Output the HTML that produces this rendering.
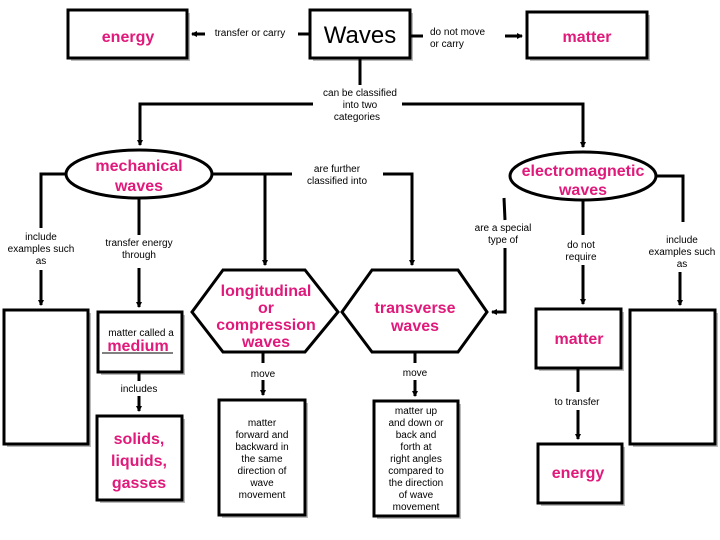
<!DOCTYPE html>
<html><head><meta charset="utf-8"><style>
html,body{margin:0;padding:0;background:#fff}
svg{display:block}
text{font-family:"Liberation Sans",sans-serif}
.s{font-size:10px;fill:#000}
.p{font-size:16px;font-weight:bold;fill:#e0197a}
</style></head><body>
<svg width="720" height="540" viewBox="0 0 720 540" xmlns="http://www.w3.org/2000/svg">
<defs><marker id="a" markerWidth="6" markerHeight="6" refX="5" refY="3" orient="auto" markerUnits="userSpaceOnUse"><path d="M0,0 L6,3 L0,6z" fill="#000"/></marker></defs>
<g fill="#bbb">
<rect x="71" y="13" width="119" height="48"/><rect x="313" y="13" width="100" height="48"/><rect x="530" y="15" width="120" height="46"/>
<rect x="7" y="313" width="84" height="134"/><rect x="101" y="315" width="84" height="60"/><rect x="100" y="419" width="85" height="84"/>
<rect x="222" y="403" width="86" height="115"/><rect x="377" y="404" width="84" height="115"/><rect x="539" y="312" width="85" height="59"/>
<rect x="541" y="447" width="84" height="59"/><rect x="633" y="313" width="85" height="134"/>
</g>
<g fill="#fff" stroke="#000" stroke-width="3">
<rect x="68" y="10" width="119" height="48"/><rect x="310" y="10" width="100" height="48"/><rect x="527" y="12" width="120" height="46"/>
<rect x="4" y="310" width="84" height="134"/><rect x="98" y="312" width="84" height="60"/><rect x="97" y="416" width="85" height="84"/>
<rect x="219" y="400" width="86" height="115"/><rect x="374" y="401" width="84" height="115"/><rect x="536" y="309" width="85" height="59"/>
<rect x="538" y="444" width="84" height="59"/><rect x="630" y="310" width="85" height="134"/>
<ellipse cx="139" cy="174" rx="73" ry="24"/><ellipse cx="583" cy="176" rx="73" ry="24"/>
<polygon points="192,312 223,270 305,270 338,312 305,352 223,352"/>
<polygon points="342,312 372,270 458,270 487,312 458,352 372,352"/>
</g>
<g fill="none" stroke="#000" stroke-width="3">
<line x1="310" y1="34" x2="298" y2="34"/><line x1="205" y1="34" x2="192" y2="34" marker-end="url(#a)"/>
<line x1="410" y1="36" x2="423" y2="36"/><line x1="505" y1="36" x2="522" y2="36" marker-end="url(#a)"/>
<line x1="360" y1="58" x2="360" y2="85"/>
<polyline points="313,104 140,104 140,145" marker-end="url(#a)"/>
<polyline points="402,104 583,104 583,147" marker-end="url(#a)"/>
<line x1="212" y1="174" x2="292" y2="174"/><line x1="265" y1="174" x2="265" y2="265" marker-end="url(#a)"/>
<polyline points="383,174 412,174 412,265" marker-end="url(#a)"/>
<polyline points="504,198 505,220"/><polyline points="505,248 505,312 492,312" marker-end="url(#a)"/>
<line x1="139" y1="198" x2="139" y2="235"/><line x1="139" y1="268" x2="139" y2="307" marker-end="url(#a)"/>
<polyline points="66,174 41,174 41,228"/><line x1="41" y1="270" x2="41" y2="305" marker-end="url(#a)"/>
<line x1="139" y1="372" x2="139" y2="381"/><line x1="139" y1="396" x2="139" y2="411" marker-end="url(#a)"/>
<line x1="263" y1="352" x2="263" y2="363"/><line x1="263" y1="380" x2="263" y2="395" marker-end="url(#a)"/>
<line x1="415" y1="352" x2="415" y2="363"/><line x1="415" y1="380" x2="415" y2="396" marker-end="url(#a)"/>
<line x1="583" y1="200" x2="583" y2="235"/><line x1="583" y1="265" x2="583" y2="304" marker-end="url(#a)"/>
<line x1="578" y1="368" x2="578" y2="392"/><line x1="578" y1="410" x2="578" y2="439" marker-end="url(#a)"/>
<polyline points="656,176 683,176 683,222"/><line x1="680" y1="272" x2="680" y2="305" marker-end="url(#a)"/>
</g>
<line x1="102" y1="353" x2="173" y2="353" stroke="#000" stroke-width="1"/>
<g text-anchor="middle">
<text x="128" y="42" class="p">energy</text>
<text x="360" y="43" style="font-size:24px">Waves</text>
<text x="587" y="42" class="p">matter</text>
<text x="250" y="36" class="s">transfer or carry</text>
<text x="360" y="96" class="s">can be classified</text><text x="360" y="108" class="s">into two</text><text x="357" y="120" class="s">categories</text>
<text x="139" y="171" class="p">mechanical</text><text x="139" y="191" class="p">waves</text>
<text x="583" y="176" class="p">electromagnetic</text><text x="583" y="195" class="p">waves</text>
<text x="337" y="172" class="s">are further</text><text x="337" y="184" class="s">classified into</text>
<text x="503" y="231" class="s">are a special</text><text x="503" y="243" class="s">type of</text>
<text x="41" y="240" class="s">include</text><text x="41" y="252" class="s">examples such</text><text x="41" y="264" class="s">as</text>
<text x="682" y="243" class="s">include</text><text x="682" y="255" class="s">examples such</text><text x="682" y="267" class="s">as</text>
<text x="139" y="246" class="s">transfer energy</text><text x="139" y="258" class="s">through</text>
<text x="581" y="248" class="s">do not</text><text x="581" y="260" class="s">require</text>
<text x="141" y="336" class="s">matter called a</text><text x="138" y="351" class="p">medium</text>
<text x="266" y="296" class="p">longitudinal</text><text x="266" y="313" class="p">or</text><text x="266" y="330" class="p">compression</text><text x="266" y="347" class="p">waves</text>
<text x="415" y="313" class="p">transverse</text><text x="415" y="331" class="p">waves</text>
<text x="579" y="344" class="p">matter</text>
<text x="139" y="392" class="s">includes</text>
<text x="263" y="377" class="s">move</text><text x="415" y="376" class="s">move</text>
<text x="577" y="405" class="s">to transfer</text>
<text x="578" y="478" class="p">energy</text>
<text x="139" y="444" class="p">solids,</text><text x="139" y="466" class="p">liquids,</text><text x="139" y="488" class="p">gasses</text>
<text x="262" y="426" class="s">matter</text><text x="262" y="438" class="s">forward and</text><text x="262" y="450" class="s">backward in</text><text x="262" y="462" class="s">the same</text><text x="262" y="474" class="s">direction of</text><text x="262" y="486" class="s">wave</text><text x="262" y="498" class="s">movement</text>
<text x="416" y="414" class="s">matter up</text><text x="416" y="426" class="s">and down or</text><text x="416" y="438" class="s">back and</text><text x="416" y="450" class="s">forth at</text><text x="416" y="462" class="s">right angles</text><text x="416" y="474" class="s">compared to</text><text x="416" y="486" class="s">the direction</text><text x="416" y="498" class="s">of wave</text><text x="416" y="510" class="s">movement</text>
</g>
<text x="430" y="35" class="s">do not move</text><text x="430" y="47" class="s">or carry</text>
</svg>
</body></html>
